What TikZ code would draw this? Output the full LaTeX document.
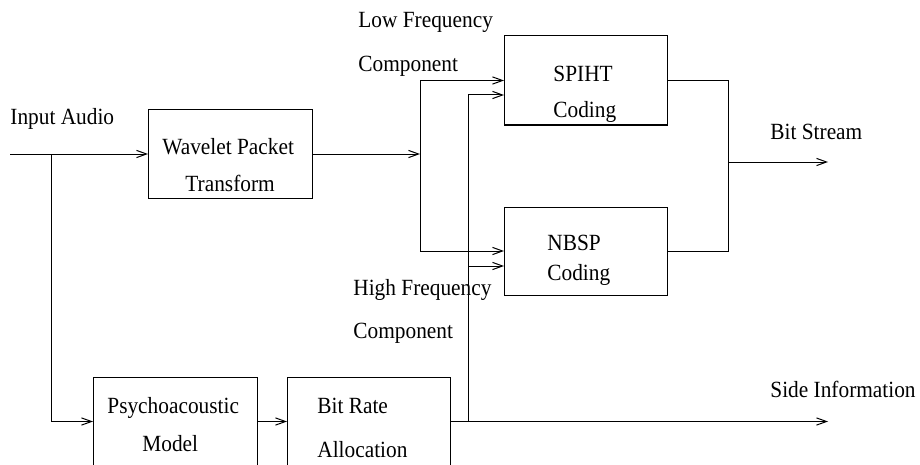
\documentclass[tikz,border=0pt]{standalone}
\usepackage{fontspec}
\setmainfont[FakeStretch=0.92]{Liberation Serif}
\usetikzlibrary{arrows.meta, positioning, calc}

\begin{document}
\begin{tikzpicture}[
    x=0.5pt, y=-0.5pt,
    font=\fontsize{11.6}{14}\selectfont,
    block/.style={
        rectangle,
        draw=black,
        line width=0.5pt,
        minimum width=81.5pt,
        minimum height=44pt,
        inner sep=0pt,
        outer sep=0pt
    },
    lbl/.style={
        anchor=base west,
        inner sep=0pt
    },
    arrow/.style={
        line width=0.5pt,
        -{Straight Barb[length=5pt, width=3.6pt]}
    },
    wire/.style={
        line width=0.5pt
    }
]

% Page frame
\useasboundingbox (0,0) rectangle (920,465);
\clip (0,0) rectangle (920,465);

% Processing blocks
\node[block, minimum width=82pt] (wpt) at (230,154) {};
\node[block, minimum height=44.5pt] (spiht) at (585.5,80.5) {};
\node[block] (nbsp) at (585.5,251) {};
\node[block, minimum width=82pt, minimum height=44.5pt] (psy) at (175,421.5) {};
\node[block, minimum height=44.5pt] (bra) at (368.5,421.5) {};

% Block texts
\node[lbl] (wptA) at (162,155) {Wavelet Packet};
\node[lbl] (wptB) at (185,191) {Transform};
\node[lbl] (spihtA) at (553,82) {SPIHT};
\node[lbl] (spihtB) at (553,118) {Coding};
\node[lbl] (nbspA) at (547,250) {NBSP};
\node[lbl] (nbspB) at (547,280) {Coding};
\node[lbl] (psyA) at (107,413) {Psychoacoustic};
\node[lbl] (psyB) at (142,451) {Model};
\node[lbl] (braA) at (317,413) {Bit Rate};
\node[lbl] (braB) at (317,457) {Allocation};

% Signal labels
\node[lbl] (inlbl) at (10,125) {Input Audio};
\node[lbl] (lowA) at (358,28) {Low Frequency};
\node[lbl] (lowB) at (358,72) {Component};
\node[lbl] (highA) at (353,295) {High Frequency};
\node[lbl] (highB) at (353,338) {Component};
\node[lbl] (bslbl) at (770,140) {Bit Stream};
\node[lbl] (silbl) at (770,397) {Side Information};

% Junction points
\coordinate (input) at (10,154);
\coordinate (split) at (51,154);
\coordinate (fork) at (420,154);
\coordinate (tap) at (468,421.5);
\coordinate (merge) at (728,162);
\coordinate (bsend) at (828,162);
\coordinate (siend) at (828,421.5);

% Input and analysis path
\draw[arrow] (input) -- (wpt.west);
\draw[arrow] (split) |- (psy.west);
\draw[arrow] (psy.east) -- (bra.west);
\draw[arrow] (wpt.east) -- (fork);

% Subband split
\draw[arrow] (fork) |- (spiht.west);
\draw[arrow] (fork) |- (nbsp.west);

% Bit allocation to both coders
\draw[arrow] (bra.east) -- (siend);
\draw[arrow] (tap) |- ($(spiht.west)+(0,14.5)$);
\draw[arrow] (tap) |- ($(nbsp.west)+(0,15)$);

% Coded output
\draw[wire] (spiht.east) -| (merge) |- (nbsp.east);
\draw[arrow] (merge) -- (bsend);

\end{tikzpicture}
\end{document}
